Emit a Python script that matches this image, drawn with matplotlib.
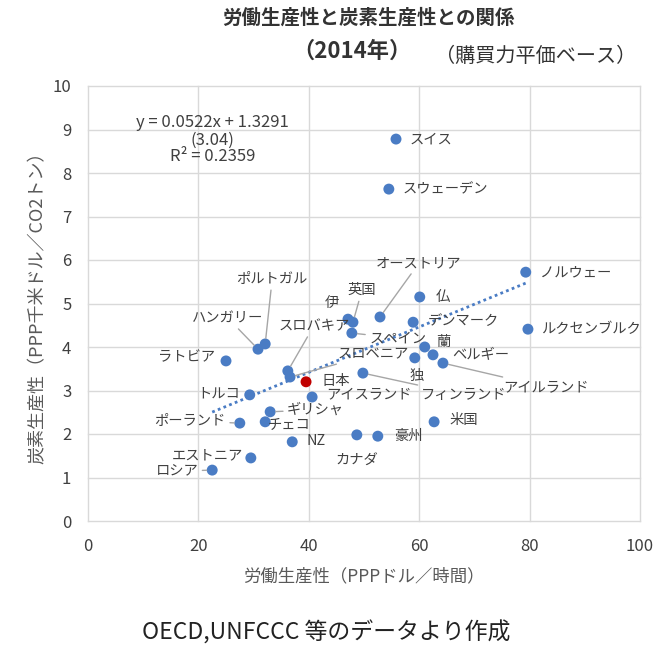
import matplotlib
matplotlib.use("Agg")
import matplotlib.pyplot as plt
import numpy as np

plt.rcParams['font.family'] = ['Noto Sans CJK JP', 'DejaVu Sans']

# ---- data ----
countries = ["スイス", "スウェーデン", "ノルウェー", "ルクセンブルク", "仏", "デンマーク",
             "オーストリア", "英国", "伊", "スペイン", "スロバキア", "スロベニア",
             "日本", "アイスランド", "フィンランド", "独", "蘭", "ベルギー", "アイルランド",
             "米国", "豪州", "カナダ", "NZ", "チェコ", "ギリシャ", "ポーランド", "トルコ",
             "ラトビア", "ハンガリー", "ポルトガル", "エストニア", "ロシア"]
labor_prod = [55.8, 54.5, 79.3, 79.7, 60.1, 58.9,
              52.9, 48.0, 47.1, 47.8, 36.2, 36.6,
              39.5, 40.6, 49.8, 59.2, 61.0, 62.5, 64.3,
              62.7, 52.5, 48.7, 37.0, 32.1, 33.0, 27.5, 29.3,
              25.0, 30.8, 32.1, 29.5, 22.5]
carbon_prod = [8.78, 7.63, 5.72, 4.41, 5.15, 4.57,
               4.69, 4.57, 4.64, 4.32, 3.45, 3.31,
               3.20, 2.85, 3.40, 3.75, 4.00, 3.82, 3.63,
               2.28, 1.95, 1.98, 1.82, 2.28, 2.51, 2.25, 2.90,
               3.68, 3.95, 4.07, 1.45, 1.17]
slope, intercept = 0.0522, 1.3291
eq_lines = ["y = 0.0522x + 1.3291", "(3.04)", "R² = 0.2359"]
x_ticks = [0, 20, 40, 60, 80, 100]
y_ticks = list(range(0, 11))

# ---- label layout: (dx px, dy px, ha, leader) ----
layout = {
    "スイス": (14, 0, "left", False),
    "スウェーデン": (14, 0, "left", False),
    "ノルウェー": (14, 0, "left", False),
    "ルクセンブルク": (13, 0, "left", False),
    "仏": (16, 0, "left", False),
    "デンマーク": (15, 1, "left", False),
    "オーストリア": (39, 54, "center", True),
    "英国": (9, 32, "center", True),
    "伊": (-16, 15, "center", False),
    "スペイン": (46, -5, "center", True),
    "スロバキア": (26, 45, "center", True),
    "スロベニア": (83, 23, "center", True),
    "日本": (15, 1, "left", False),
    "アイスランド": (14, 3, "left", False),
    "フィンランド": (101, -22, "center", True),
    "独": (2, -18, "center", False),
    "蘭": (19, 5, "center", False),
    "ベルギー": (48, 0, "center", False),
    "アイルランド": (103, -24, "center", True),
    "米国": (15, 2, "left", False),
    "豪州": (16, 0, "left", False),
    "カナダ": (0, -26, "center", False),
    "NZ": (14, 1, "left", False),
    "チェコ": (24, -3, "center", False),
    "ギリシャ": (17, 2, "left", True),
    "ポーランド": (-14, 2, "right", True),
    "トルコ": (-10, 1, "right", False),
    "ラトビア": (-11, 4, "right", False),
    "ハンガリー": (-30, 31, "center", True),
    "ポルトガル": (7, 65, "center", True),
    "エストニア": (-8, 3, "right", False),
    "ロシア": (-14, -1, "right", True),
}

fig = plt.figure(figsize=(6.56, 6.51), dpi=100)
ax = fig.add_axes([88/656, 1-521/651, (640-88)/656, (521-86)/651])

blue = "#4a7cc4"
red = "#c00000"
colors = [red if c == "日本" else blue for c in countries]

# trend line
xs = np.array([min(labor_prod), max(labor_prod)])
ax.plot(xs, slope*xs + intercept, linestyle=(0, (1, 1.2)), color=blue, lw=2, zorder=2)

ax.scatter(labor_prod, carbon_prod, s=62, c=colors, zorder=3, edgecolors='none')

for name, x, y in zip(countries, labor_prod, carbon_prod):
    dx, dy, ha, leader = layout[name]
    kw = {}
    if leader:
        kw['arrowprops'] = dict(arrowstyle='-', color='#a6a6a6', lw=1.0,
                                shrinkA=1, shrinkB=4)
    ax.annotate(name, xy=(x, y), xytext=(dx, dy), textcoords='offset pixels',
                ha=ha, va='center', fontsize=10.3, color='#404040', zorder=4, **kw)

ax.set_xlim(0, 100)
ax.set_ylim(0, 10)
ax.set_xticks(x_ticks)
ax.set_yticks(y_ticks)
ax.tick_params(length=0, labelsize=12, colors='#404040')
ax.tick_params(axis='y', pad=12)
ax.tick_params(axis='x', pad=12)
ax.grid(True, color='#d9d9d9', lw=1)
ax.set_axisbelow(True)
for sp in ax.spines.values():
    sp.set_visible(False)
for line in ax.get_xgridlines() + ax.get_ygridlines():
    line.set_clip_on(False)

# regression equation (three lines)
for txt, yy in zip(eq_lines, [9.17, 8.74, 8.37]):
    ax.text(22.5, yy, txt, ha='center', va='center', fontsize=12, color='#404040')

ax.set_xlabel("労働生産性（PPPドル／時間）", fontsize=12.5, color='#595959', labelpad=9)
ax.set_ylabel("炭素生産性（PPP千米ドル／CO2トン）", fontsize=13, color='#595959', labelpad=4)

fig.text(368/656, 1-18/651, "労働生産性と炭素生産性との関係", ha='center', va='center',
         fontsize=14, fontweight='bold', color='#333333')
fig.text(352/656, 1-51/651, "（2014年）", ha='center', va='center',
         fontsize=16, fontweight='bold', color='#333333')
fig.text(536/656, 1-57/651, "（購買力平価ベース）", ha='center', va='center',
         fontsize=14.5, color='#333333')
fig.text(326/656, 1-633/651, "OECD,UNFCCC 等のデータより作成", ha='center', va='center',
         fontsize=16.5, color='#222222')

fig.savefig("out.png", dpi=100)
